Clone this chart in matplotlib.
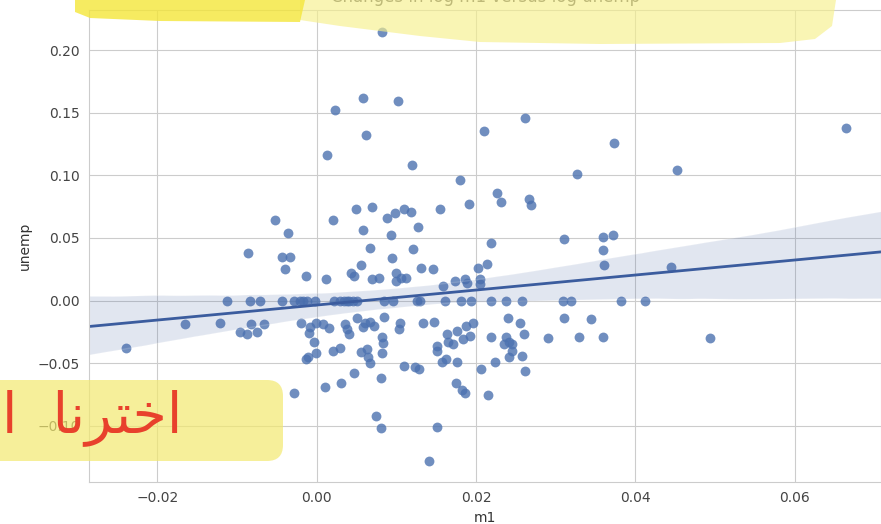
import matplotlib
matplotlib.use("Agg")
import matplotlib.pyplot as plt
import pandas as pd
import seaborn as sns
from matplotlib.patches import FancyBboxPatch, Polygon
from matplotlib.transforms import IdentityTransform

# log-differences (m1 on x, unemp on y)
m1 = [
    0.0082, 0.0058, 0.0102, 0.0023, 0.0062, 0.0013, 0.0120, 0.0180, 0.0191, -0.0052,
    0.0020, 0.0049, 0.0070, 0.0088, 0.0098, 0.0110, 0.0118, 0.0155, 0.0127, -0.0036,
    0.0058, 0.0093, -0.0086, -0.0044, -0.0034, 0.0067, 0.0121, -0.0040, 0.0094, -0.0014,
    0.0012, 0.0055, 0.0043, 0.0047, 0.0070, 0.0078, 0.0100, 0.0100, 0.0106, 0.0112,
    0.0131, 0.0146, 0.0159, 0.0174, 0.0186, 0.0189, 0.0202, 0.0214, 0.0205, 0.0205,
    0.0261, 0.0210, 0.0373, 0.0327, 0.0452, 0.0665, 0.0227, 0.0232, 0.0267, 0.0269,
    0.0219, 0.0311, 0.0360, 0.0372, 0.0359, 0.0361, 0.0445,
    -0.0239, -0.0165, -0.0122, -0.0096, -0.0088, -0.0083, -0.0075, -0.0066, -0.0020, -0.0008,
    -0.0010, -0.0001, 0.0008, 0.0015, -0.0004, -0.0001, -0.0013, -0.0011, 0.0021, 0.0029,
    0.0035, 0.0038, 0.0040, 0.0051, 0.0061, 0.0067, 0.0072, 0.0084, 0.0058, 0.0082,
    0.0083, 0.0082, 0.0056, 0.0063, 0.0065, 0.0067, 0.0104, 0.0103, 0.0134, 0.0147,
    0.0047, 0.0081, 0.0030, 0.0011, -0.0029, 0.0075, 0.0081, 0.0151, 0.0141, 0.0109,
    0.0123, 0.0129, 0.0151, 0.0151, 0.0163, 0.0176, 0.0165, 0.0171, 0.0157, 0.0162,
    0.0176, 0.0184, 0.0193, 0.0188, 0.0196, 0.0175, 0.0183, 0.0186, 0.0215, 0.0206,
    0.0224, 0.0219, 0.0238, 0.0241, 0.0245, 0.0235, 0.0245, 0.0241, 0.0258, 0.0260,
    0.0261, 0.0240, 0.0255, 0.0311, 0.0345, 0.0290, 0.0329, 0.0359, 0.0494,
    -0.0112, -0.0084, -0.0071, -0.0044, -0.0029, -0.0021, -0.0017, -0.0012, -0.0002, 0.0022,
    0.0029, 0.0034, 0.0038, 0.0041, 0.0046, 0.0051, 0.0084, 0.0096, 0.0126, 0.0130,
    0.0161, 0.0181, 0.0194, 0.0219, 0.0238, 0.0258, 0.0309, 0.0319, 0.0382, 0.0412,
]
unemp = [
    0.214, 0.162, 0.159, 0.152, 0.132, 0.116, 0.108, 0.096, 0.077, 0.064,
    0.064, 0.073, 0.075, 0.066, 0.070, 0.073, 0.071, 0.073, 0.059, 0.054,
    0.056, 0.052, 0.038, 0.035, 0.035, 0.042, 0.041, 0.025, 0.034, 0.020,
    0.017, 0.028, 0.022, 0.020, 0.017, 0.018, 0.022, 0.016, 0.018, 0.018,
    0.026, 0.025, 0.012, 0.016, 0.017, 0.014, 0.026, 0.029, 0.017, 0.013,
    0.146, 0.135, 0.126, 0.101, 0.104, 0.138, 0.086, 0.079, 0.081, 0.076,
    0.046, 0.049, 0.051, 0.052, 0.040, 0.028, 0.027,
    -0.038, -0.019, -0.018, -0.025, -0.027, -0.019, -0.025, -0.019, -0.018, -0.021,
    -0.026, -0.018, -0.019, -0.022, -0.033, -0.042, -0.047, -0.045, -0.040, -0.038,
    -0.019, -0.023, -0.027, -0.014, -0.018, -0.017, -0.020, -0.013, -0.021, -0.029,
    -0.034, -0.042, -0.041, -0.039, -0.045, -0.050, -0.018, -0.023, -0.018, -0.017,
    -0.058, -0.062, -0.066, -0.069, -0.074, -0.092, -0.102, -0.101, -0.128, -0.052,
    -0.053, -0.055, -0.036, -0.040, -0.027, -0.024, -0.033, -0.035, -0.049, -0.047,
    -0.049, -0.031, -0.028, -0.020, -0.018, -0.066, -0.071, -0.074, -0.075, -0.055,
    -0.049, -0.029, -0.029, -0.033, -0.035, -0.035, -0.040, -0.045, -0.044, -0.027,
    -0.056, -0.014, -0.018, -0.014, -0.015, -0.030, -0.029, -0.029, -0.030,
    0.0, 0.0, 0.0, 0.0, 0.0, 0.0, 0.0, 0.0, 0.0, 0.0,
    0.0, 0.0, 0.0, 0.0, 0.0, 0.0, 0.0, 0.0, 0.0, 0.0,
    0.0, 0.0, 0.0, 0.0, 0.0, 0.0, 0.0, 0.0, 0.0, 0.0,
]
x_ticks = [-0.02, 0.00, 0.02, 0.04, 0.06]
y_ticks = [-0.10, -0.05, 0.00, 0.05, 0.10, 0.15, 0.20]

trans_data = pd.DataFrame({'m1': m1, 'unemp': unemp})

sns.set_style("whitegrid")
plt.rcParams['font.family'] = ['DejaVu Sans']

W, H = 881, 524
fig = plt.figure(figsize=(W / 100, H / 100), dpi=100)
ax = fig.add_axes([89.3 / W, 1 - 481.7 / H, 1 - 89.3 / W, (481.7 - 10.2) / H])
ax.set_xlim(-0.02855, 0.07085)
ax.set_ylim(-0.1446, 0.2318)

sns.regplot(x='m1', y='unemp', data=trans_data, ax=ax, truncate=False, seed=0,
            color='#4C72B0',
            scatter_kws=dict(s=50, alpha=0.8, linewidths=0),
            line_kws=dict(lw=2, color='#3b5c9e'))

ax.set_xlim(-0.02855, 0.07085)
ax.set_ylim(-0.1446, 0.2318)
ax.set_xticks(x_ticks)
ax.set_yticks(y_ticks)
ax.tick_params(labelsize=10, colors='#444444')
ax.set_xlabel('m1', fontsize=10, color='#333333')
ax.set_ylabel('unemp', fontsize=10, color='#333333')
ax.set_title('Changes in log m1 versus log unemp', fontsize=12, color='#555555', pad=6)

px = IdentityTransform()  # pixel coords, origin bottom-left


def pt(a, b):
    return (a, H - b)


# highlighter marks drawn over the screenshot
pale_top = [(300, 0), (300, 20), (340, 26), (420, 36), (480, 42), (600, 44),
            (780, 43), (815, 39), (832, 26), (836, 0)]
fig.add_artist(Polygon([pt(a, b) for a, b in pale_top], closed=True, transform=px,
                       facecolor='#f7f08c', alpha=0.65, edgecolor='none'))
bright_top = [(75, 0), (75, 12), (90, 18), (160, 21), (300, 22), (305, 0)]
fig.add_artist(Polygon([pt(a, b) for a, b in bright_top], closed=True, transform=px,
                       facecolor='#f4e63a', alpha=0.8, edgecolor='none'))
fig.add_artist(FancyBboxPatch(pt(-20, 461), 303, 81,
                              boxstyle='round,pad=0,rounding_size=16', transform=px,
                              facecolor='#f3e96f', alpha=0.7, edgecolor='none'))

# Arabic caption in visual order with presentation forms
arabic = '\uFEDF\uFE8D  \uFE8E\uFEE7\uFEAE\uFE98\uFEA7\uFE8D'
fig.text(183, H - 418, arabic, transform=px, ha='right', va='center', fontsize=40,
         color='#e8412c', family=['DejaVu Sans'])

fig.savefig('out.png', dpi=100)
